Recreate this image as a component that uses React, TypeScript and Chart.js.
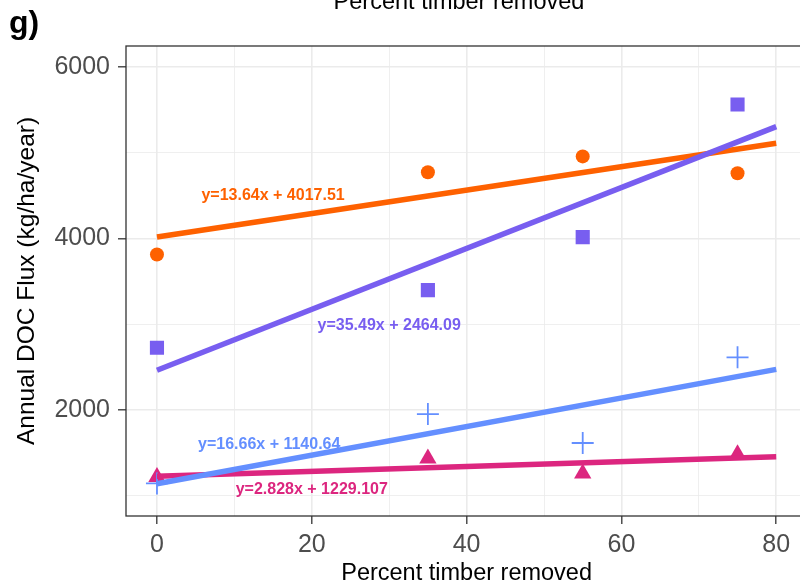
import React, { useEffect, useRef } from "react";
import { Chart, registerables } from "chart.js";

Chart.register(...registerables);

const FONT = "'Liberation Sans', Arial, Helvetica, sans-serif";

// Percent timber removed (x positions of observations)
const timberRemoved = [0, 35, 55, 75];
// Observed annual DOC flux per series
const orangeFlux = [3813, 4772, 4956, 4760];
const purpleFlux = [2726, 3398, 4015, 5561];
const blueFlux = [1145, 1953, 1616, 2614];
const magentaFlux = [1220, 1435, 1260, 1485];

// Fitted lines (slope, intercept) as printed on the chart
const fitSlopes = [13.64, 35.49, 16.66, 2.828];
const fitIntercepts = [4017.51, 2464.09, 1140.64, 1229.107];
const fitRange = [0, 80];
const fitLabels = [
  "y=13.64x + 4017.51",
  "y=35.49x + 2464.09",
  "y=16.66x + 1140.64",
  "y=2.828x + 1229.107",
];
// label anchor positions (data units)
const labelX = [15, 30, 14.5, 20];
const labelY = [4500, 2990, 1595, 1070];

// axis ticks: labelled (major) and all grid positions
const xTicks = [0, 20, 40, 60, 80];
const xGrid = [0, 10, 20, 30, 40, 50, 60, 70, 80];
const yTicks = [2000, 4000, 6000];
const yGrid = [1000, 2000, 3000, 4000, 5000, 6000];

const COLORS = ["#FE6100", "#785EF0", "#648FFF", "#DC267F"];

export default function App() {
  const ref = useRef<HTMLCanvasElement | null>(null);

  useEffect(() => {
    const canvas = ref.current;
    if (!canvas) return;
    Chart.defaults.font.family = FONT;

    const pts = (ys: number[]) => timberRemoved.map((x, i) => ({ x, y: ys[i] }));
    const fit = (k: number) =>
      fitRange.map((x) => ({ x, y: fitSlopes[k] * x + fitIntercepts[k] }));

    const lineDs = (k: number, order: number) => ({
      type: "scatter" as const,
      data: fit(k),
      showLine: true,
      borderColor: COLORS[k],
      backgroundColor: COLORS[k],
      borderWidth: 5.5,
      pointRadius: 0,
      order,
    });

    const overlay = {
      id: "overlay",
      beforeDatasetsDraw(chart: any) {
        const { ctx, scales } = chart;
        ctx.save();
        ctx.font = `bold 16px ${FONT}`;
        ctx.textAlign = "center";
        ctx.textBaseline = "middle";
        fitLabels.forEach((t, k) => {
          ctx.fillStyle = COLORS[k];
          ctx.fillText(t, scales.x.getPixelForValue(labelX[k]), scales.y.getPixelForValue(labelY[k]));
        });
        ctx.restore();
      },
      afterDraw(chart: any) {
        const { ctx, chartArea } = chart;
        ctx.save();
        ctx.strokeStyle = "#333333";
        ctx.lineWidth = 1.3;
        ctx.strokeRect(chartArea.left, chartArea.top, chartArea.right - chartArea.left, chartArea.bottom - chartArea.top);
        ctx.fillStyle = "#000";
        ctx.textBaseline = "alphabetic";
        ctx.textAlign = "left";
        ctx.font = `bold 32px ${FONT}`;
        ctx.fillText("g)", 9, 33);
        ctx.textAlign = "center";
        ctx.font = `23.5px ${FONT}`;
        ctx.fillText("Percent timber removed", 459, 9);
        ctx.restore();
      },
    };

    const chart = new Chart(canvas, {
      type: "scatter",
      data: {
        datasets: [
          lineDs(2, 0),
          lineDs(1, 1),
          lineDs(3, 2),
          lineDs(0, 3),
          {
            data: pts(orangeFlux),
            pointStyle: "circle",
            pointRadius: 7,
            backgroundColor: COLORS[0],
            borderColor: COLORS[0],
            borderWidth: 0,
            order: 10,
          },
          {
            data: pts(purpleFlux),
            pointStyle: "rect",
            pointRadius: 10,
            backgroundColor: COLORS[1],
            borderColor: COLORS[1],
            borderWidth: 0,
            order: 11,
          },
          {
            data: pts(blueFlux),
            pointStyle: "cross",
            pointRadius: 11,
            backgroundColor: COLORS[2],
            borderColor: COLORS[2],
            borderWidth: 1.8,
            order: 12,
          },
          {
            data: pts(magentaFlux),
            pointStyle: "triangle",
            pointRadius: 10,
            backgroundColor: COLORS[3],
            borderColor: COLORS[3],
            borderWidth: 0,
            order: 13,
          },
        ] as any,
      },
      options: {
        animation: false,
        responsive: false,
        maintainAspectRatio: false,
        events: [],
        layout: { padding: { top: 46, right: 12, left: 0, bottom: 0 } },
        plugins: { legend: { display: false }, tooltip: { enabled: false }, title: { display: false } },
        scales: {
          x: {
            type: "linear",
            min: -4,
            max: 84,
            afterBuildTicks: (s: any) => {
              s.ticks = xGrid.map((v) => ({ value: v }));
            },
            afterFit: (s: any) => {
              s.height = 70;
            },
            border: { display: false },
            grid: {
              color: "#EBEBEB",
              lineWidth: (c: any) => (xTicks.includes(c.tick?.value) ? 1.6 : 0.8),
              drawTicks: true,
              tickLength: 8,
              tickWidth: 1.3,
              tickColor: (c: any) => (xTicks.includes(c.tick?.value) ? "#333333" : "rgba(0,0,0,0)"),
            },
            ticks: {
              autoSkip: false,
              maxRotation: 0,
              padding: 6,
              color: "#4D4D4D",
              font: { size: 25 },
              callback: (v: any) => (xTicks.includes(Number(v)) ? String(v) : ""),
            },
            title: {
              display: true,
              text: "Percent timber removed",
              color: "#000",
              font: { size: 23.5, lineHeight: 1.05 },
              padding: { top: 0, bottom: 0 },
            },
          },
          y: {
            type: "linear",
            min: 765,
            max: 6243,
            afterBuildTicks: (s: any) => {
              s.ticks = yGrid.map((v) => ({ value: v }));
            },
            afterFit: (s: any) => {
              s.width = 126;
            },
            border: { display: false },
            grid: {
              color: "#EBEBEB",
              lineWidth: (c: any) => (yTicks.includes(c.tick?.value) ? 1.6 : 0.8),
              drawTicks: true,
              tickLength: 8,
              tickWidth: 1.3,
              tickColor: (c: any) => (yTicks.includes(c.tick?.value) ? "#333333" : "rgba(0,0,0,0)"),
            },
            ticks: {
              autoSkip: false,
              padding: 8,
              color: "#4D4D4D",
              font: { size: 25 },
              callback: (v: any) => (yTicks.includes(Number(v)) ? String(v) : ""),
            },
            title: {
              display: true,
              text: "Annual DOC Flux (kg/ha/year)",
              color: "#000",
              font: { size: 24.5 },
              padding: { top: 13, bottom: 0 },
            },
          },
        },
      },
      plugins: [overlay],
    } as any);

    return () => chart.destroy();
  }, []);

  return (
    <div style={{ position: "fixed", left: 0, top: 0, width: 820, height: 586, background: "#fff" }}>
      <canvas ref={ref} width={820} height={586} style={{ width: 820, height: 586, display: "block" }} />
    </div>
  );
}
